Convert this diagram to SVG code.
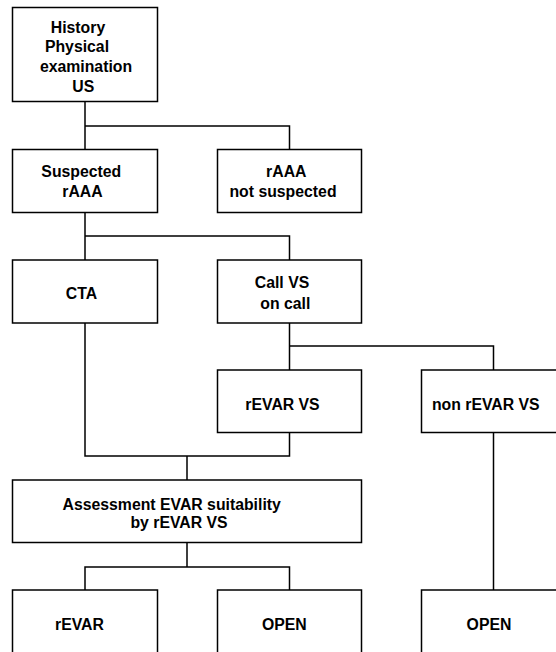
<svg xmlns="http://www.w3.org/2000/svg" width="556" height="652" viewBox="0 0 556 652">
<style>
.box{fill:#fff;stroke:#000;stroke-width:1.5}
.conn{fill:none;stroke:#000;stroke-width:1.5}
text{font-family:"Liberation Sans",Arial,sans-serif;font-weight:bold;font-size:15.8px;fill:#000;text-anchor:middle}
</style>
<rect width="556" height="652" fill="#fff"/>
<g id="connectors">
<path class="conn" d="M85,101.5 V149.5 M85,126 H289.5 V149.5"/>
<path class="conn" d="M85,212.5 V260 M85,236 H289.5 V260"/>
<path class="conn" d="M289.5,323 V370 M289.5,346 H493.5 V370"/>
<path class="conn" d="M85,323 V456 H289.5 V432.5 M187,456 V480"/>
<path class="conn" d="M187,542.5 V567 M85,590 V567 H289.5 V590"/>
<path class="conn" d="M493.5,432.5 V590"/>
</g>
<g id="n1"><rect class="box" x="12.5" y="7.5" width="145" height="94"/>
<text x="78" y="32.5">History</text><text x="77" y="52.3">Physical</text><text x="86" y="72.3">examination</text><text x="83.3" y="92">US</text></g>
<g id="n2"><rect class="box" x="12.5" y="149.5" width="145" height="63"/>
<text x="81.3" y="176.5">Suspected</text><text x="82.5" y="196.5">rAAA</text></g>
<g id="n3"><rect class="box" x="217.5" y="149.5" width="144" height="63"/>
<text x="286.3" y="176.5">rAAA</text><text x="283" y="196.5">not suspected</text></g>
<g id="n4"><rect class="box" x="12.5" y="260" width="145" height="63"/>
<text x="81.5" y="299">CTA</text></g>
<g id="n5"><rect class="box" x="217.5" y="260" width="144" height="63"/>
<text x="282" y="288.3">Call VS</text><text x="285.3" y="309.3">on call</text></g>
<g id="n6"><rect class="box" x="217.5" y="370" width="144" height="62.5"/>
<text x="282.5" y="409.5">rEVAR VS</text></g>
<g id="n7"><rect class="box" x="421.5" y="370" width="145" height="62.5"/>
<text x="485.8" y="409.5">non rEVAR VS</text></g>
<g id="n8"><rect class="box" x="12.5" y="480" width="349" height="62.5"/>
<text x="171.7" y="509.5">Assessment EVAR suitability</text><text x="179" y="528">by rEVAR VS</text></g>
<g id="n9"><rect class="box" x="12.5" y="590" width="145" height="64"/>
<text x="79.5" y="630">rEVAR</text></g>
<g id="n10"><rect class="box" x="217.5" y="590" width="144" height="64"/>
<text x="284.3" y="630">OPEN</text></g>
<g id="n11"><rect class="box" x="421.5" y="590" width="145" height="64"/>
<text x="489" y="630">OPEN</text></g>
</svg>
